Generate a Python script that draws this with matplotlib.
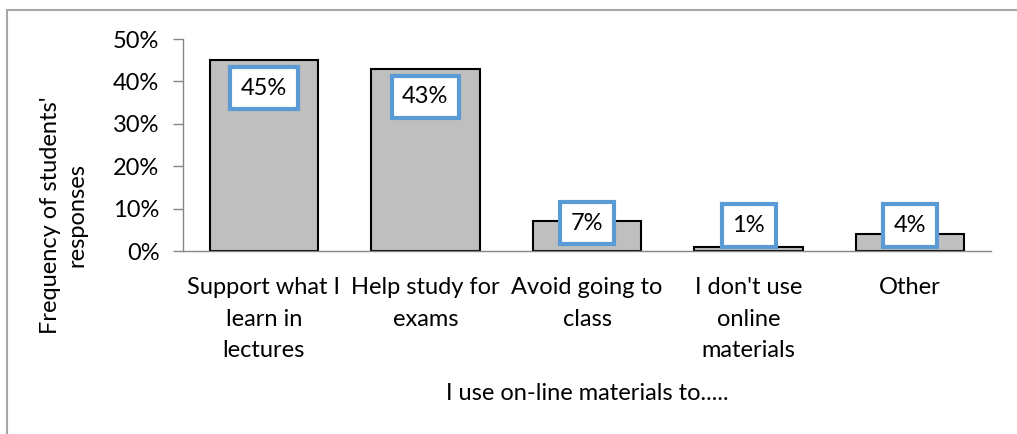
import matplotlib.pyplot as plt
from matplotlib.patches import Rectangle
from matplotlib.ticker import PercentFormatter

plt.rcParams["font.family"] = ["Lato", "DejaVu Sans"]

# Survey responses
categories = [
    "Support what I\nlearn in\nlectures",
    "Help study for\nexams",
    "Avoid going to\nclass",
    "I don't use\nonline\nmaterials",
    "Other",
]
shares = [45, 43, 7, 1, 4]

fig = plt.figure(figsize=(10.17, 4.34), dpi=100)
ax = fig.add_axes([183 / 1017, 1 - 251 / 434, (991 - 183) / 1017, 212 / 434])

x = range(len(categories))
ax.bar(x, shares, width=0.67, color="#BFBFBF", edgecolor="black", linewidth=1.5, zorder=2)

# value labels in blue-bordered boxes
for xi, v in zip(x, shares):
    y = max(v - 6.6, 6.6) if v > 5 else max(v + 1.5, 6.0)
    ax.text(xi, y, f"{v}%", ha="center", va="center", fontsize=17, zorder=3,
            bbox=dict(boxstyle="square,pad=0.45", facecolor="white",
                      edgecolor="#5B9BD5", linewidth=3))

ax.set_xlim(-0.5, len(categories) - 0.5)
ax.set_ylim(0, 50)
ax.set_yticks(range(0, 51, 10))
ax.yaxis.set_major_formatter(PercentFormatter(decimals=0))
ax.set_xticks(list(x))
ax.set_xticklabels(categories, fontsize=17, linespacing=1.6)
ax.tick_params(axis="x", length=0, pad=19)
ax.tick_params(axis="y", length=7, width=1, color="#868686", labelsize=17, pad=10)

for side in ["top", "right"]:
    ax.spines[side].set_visible(False)
for side in ["left", "bottom"]:
    ax.spines[side].set_color("#868686")
    ax.spines[side].set_linewidth(1)

ax.set_ylabel("Frequency of students'\nresponses", fontsize=17, linespacing=1.35)
ax.yaxis.set_label_coords(-0.118, 0.17)
ax.set_xlabel("I use on-line materials to.....", fontsize=17, labelpad=16)

# chart area border
fig.patches.append(Rectangle((6.5 / 1017, -0.05), 1.1, 1 - 9.5 / 434 + 0.05,
                             transform=fig.transFigure, fill=False,
                             edgecolor="#A6A6A6", linewidth=1.5))

fig.savefig("out.png", dpi=100)
